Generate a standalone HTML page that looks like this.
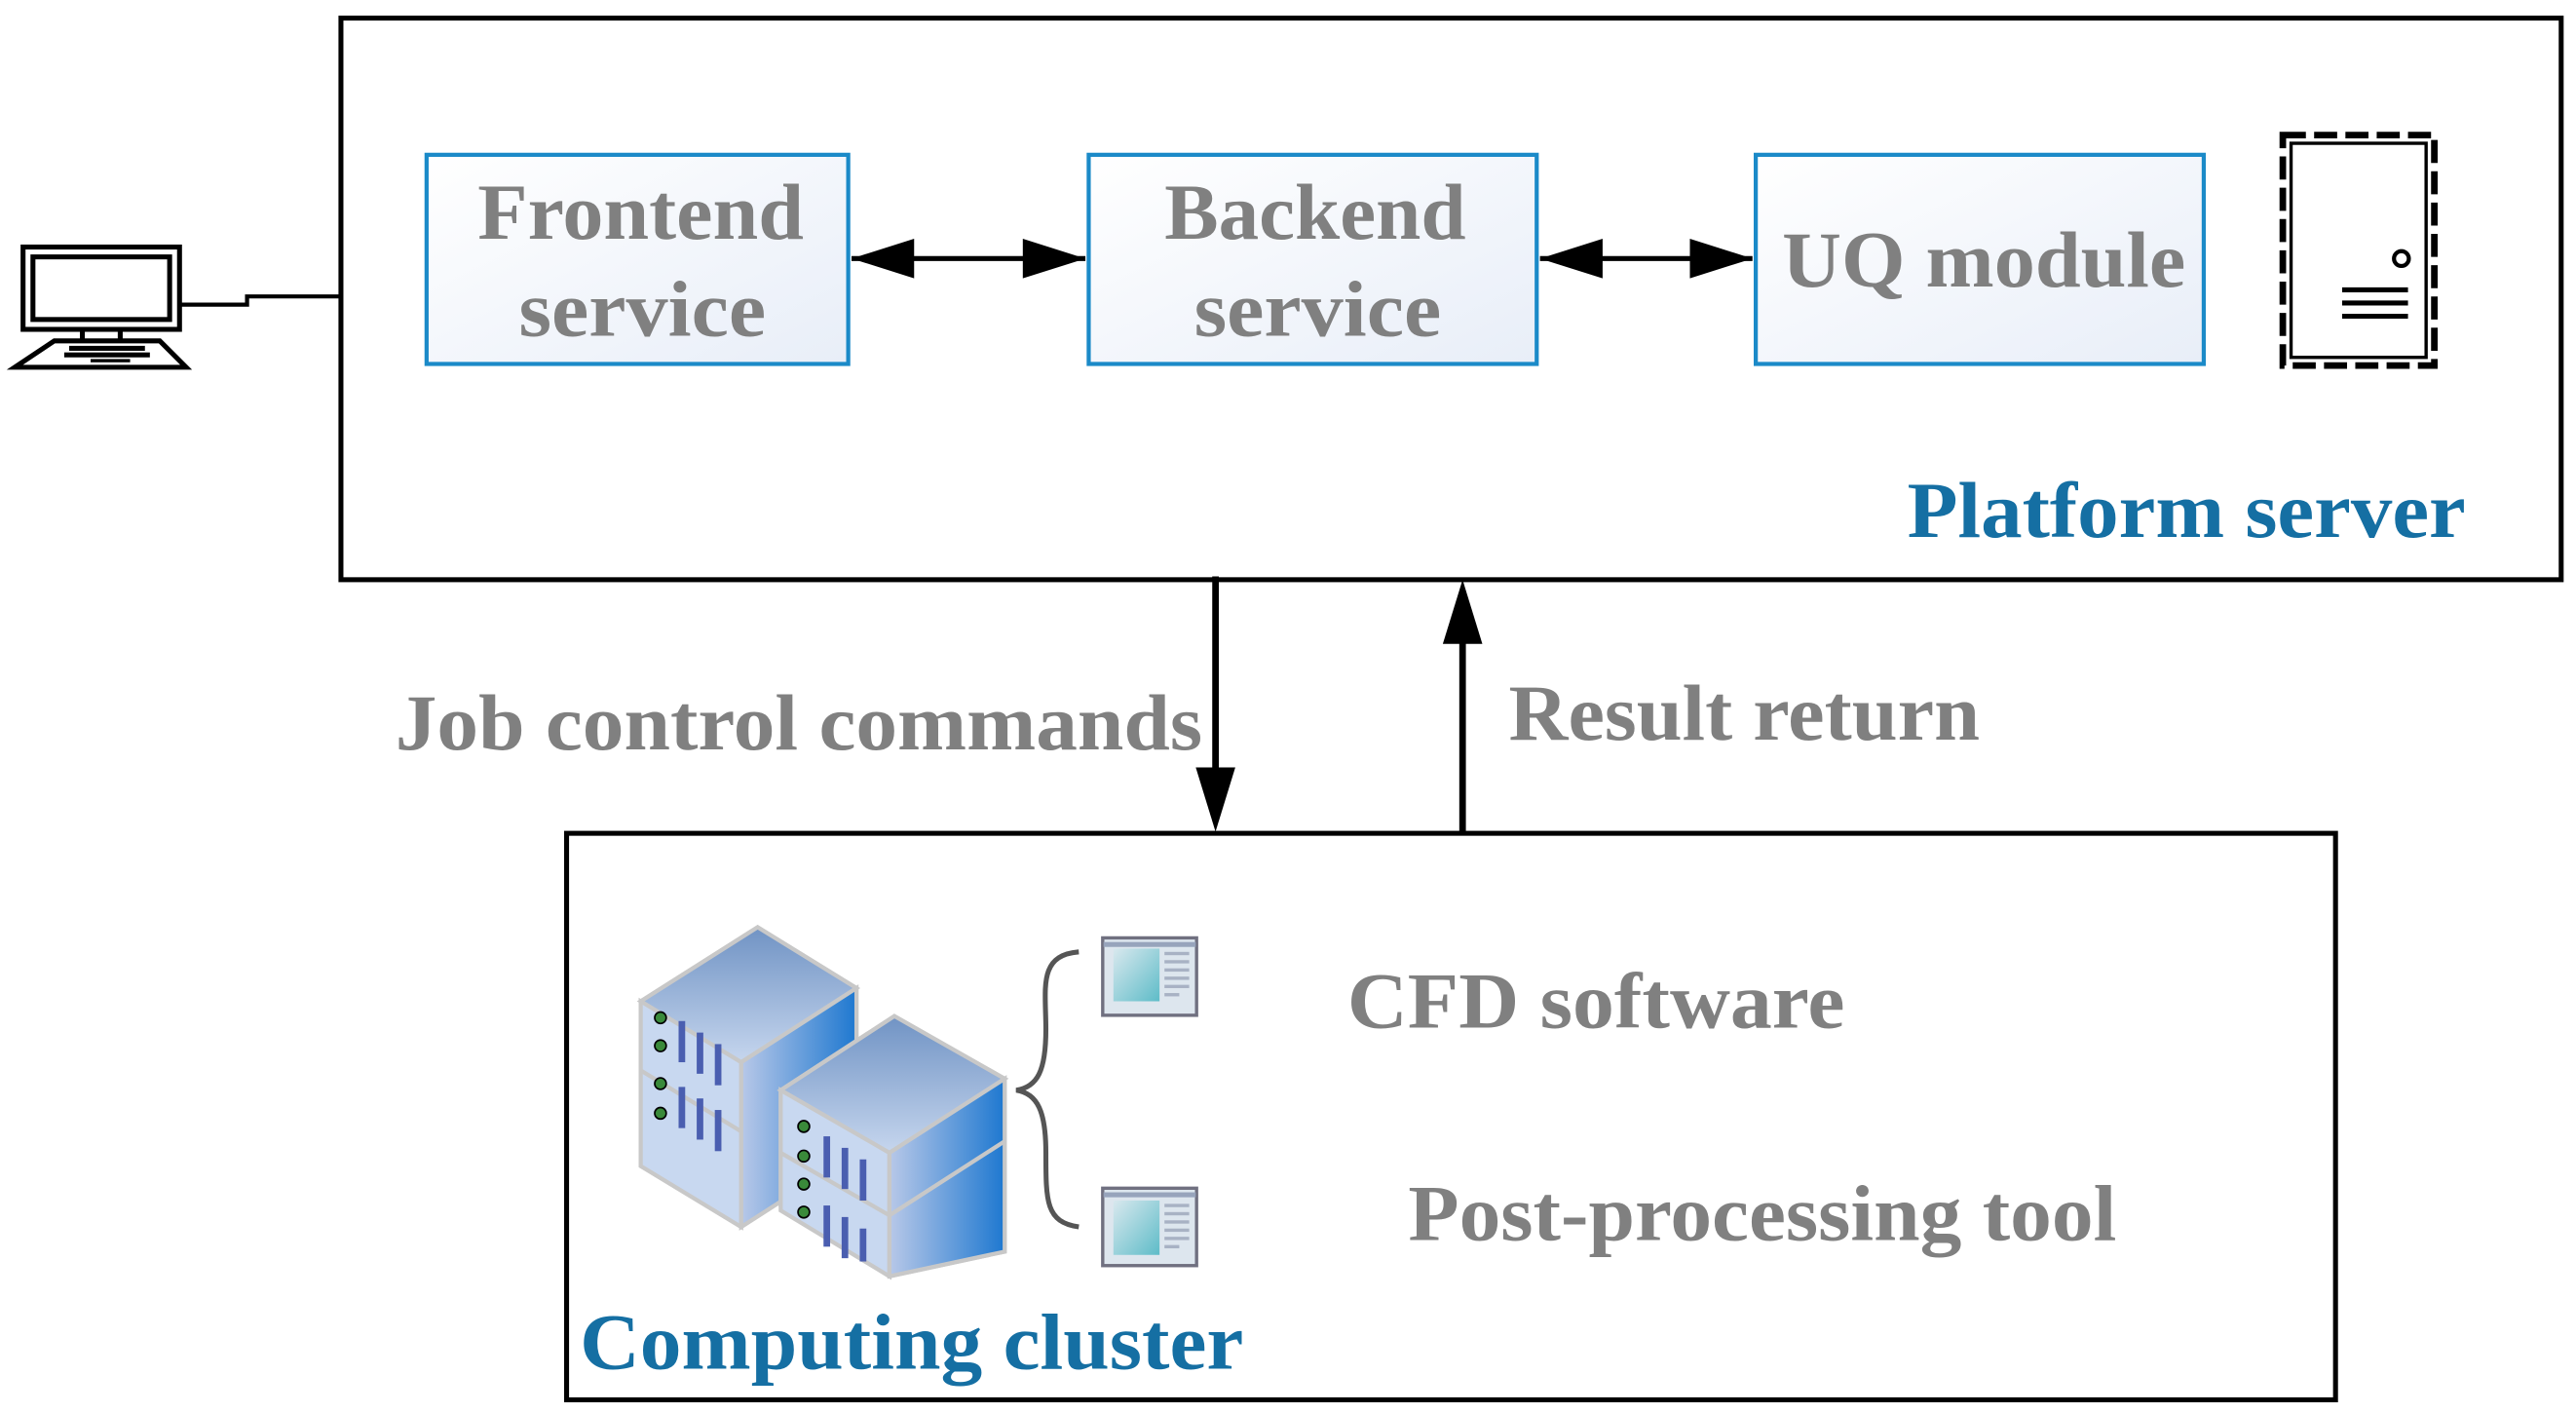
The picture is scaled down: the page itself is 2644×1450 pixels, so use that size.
<!DOCTYPE html>
<html><head><meta charset="utf-8"><style>html,body{margin:0;padding:0;background:#fff}svg{display:block}</style></head>
<body>
<svg width="2644" height="1450" viewBox="0 0 1564 858" preserveAspectRatio="none" xmlns="http://www.w3.org/2000/svg" font-family="Liberation Serif, serif" font-weight="bold">
<defs>
<linearGradient id="bx" x1="0" y1="0" x2="1" y2="1"><stop offset="0" stop-color="#ffffff"/><stop offset="1" stop-color="#e8eef8"/></linearGradient>
<linearGradient id="top" x1="0" y1="0" x2="0" y2="1"><stop offset="0" stop-color="#7093c4"/><stop offset="1" stop-color="#c6d6ee"/></linearGradient>
<linearGradient id="side" x1="0" y1="0" x2="1" y2="0"><stop offset="0" stop-color="#b8c8e8"/><stop offset="1" stop-color="#1e78d0"/></linearGradient>
<linearGradient id="scr" x1="0" y1="0" x2="1" y2="1"><stop offset="0" stop-color="#d8e8ee"/><stop offset="1" stop-color="#5ebcc8"/></linearGradient>
</defs>
<rect x="207" y="11" width="1348" height="341" fill="none" stroke="#000" stroke-width="3"/>
<rect x="259" y="94" width="256" height="127" fill="url(#bx)" stroke="#1b8ac8" stroke-width="2.5"/>
<rect x="661" y="94" width="272" height="127" fill="url(#bx)" stroke="#1b8ac8" stroke-width="2.5"/>
<rect x="1066" y="94" width="272" height="127" fill="url(#bx)" stroke="#1b8ac8" stroke-width="2.5"/>
<g fill="#808080" font-size="48" lengthAdjust="spacingAndGlyphs">
<text x="290" y="145" textLength="198" lengthAdjust="spacingAndGlyphs">Frontend</text><text x="315" y="204" textLength="150" lengthAdjust="spacingAndGlyphs">service</text>
<text x="707" y="145" textLength="183" lengthAdjust="spacingAndGlyphs">Backend</text><text x="725" y="204" textLength="150" lengthAdjust="spacingAndGlyphs">service</text>
<text x="1082" y="174" textLength="245" lengthAdjust="spacingAndGlyphs">UQ module</text>
</g>
<g stroke="#000" stroke-width="3">
<line x1="517" y1="157" x2="659" y2="157"/><line x1="935" y1="157" x2="1064" y2="157"/>
</g>
<g fill="#000">
<path d="M517,157 L555,145 L555,169z"/><path d="M659,157 L621,145 L621,169z"/>
<path d="M935,157 L973,145 L973,169z"/><path d="M1064,157 L1026,145 L1026,169z"/>
</g>
<rect x="1386" y="82" width="92" height="140" fill="none" stroke="#000" stroke-width="4" stroke-dasharray="14,5"/>
<rect x="1391" y="87" width="82" height="130" fill="none" stroke="#000" stroke-width="2"/>
<circle cx="1458" cy="157" r="4.5" fill="none" stroke="#000" stroke-width="2.5"/>
<g stroke="#000" stroke-width="3"><line x1="1422" y1="176" x2="1462" y2="176"/><line x1="1422" y1="184" x2="1462" y2="184"/><line x1="1422" y1="192" x2="1462" y2="192"/></g>
<text x="1158" y="326" font-size="48" fill="#156fa3" textLength="339" lengthAdjust="spacingAndGlyphs">Platform server</text>
<rect x="14" y="150" width="95" height="50" fill="none" stroke="#000" stroke-width="3"/>
<rect x="20" y="156" width="83" height="38" fill="none" stroke="#000" stroke-width="3"/>
<g stroke="#000" stroke-width="3"><line x1="50" y1="200" x2="50" y2="207"/><line x1="73" y1="200" x2="73" y2="207"/></g>
<path d="M33,207 L97,207 L113,223 L9,223 z" fill="none" stroke="#000" stroke-width="3"/>
<g fill="#000"><rect x="42" y="210" width="46" height="3"/><rect x="39" y="214" width="52" height="3"/><rect x="55" y="218" width="24" height="2"/></g>
<path d="M109,185 L150,185 L150,180 L207,180" fill="none" stroke="#000" stroke-width="2.5"/>
<g stroke="#000" stroke-width="4"><line x1="738" y1="350" x2="738" y2="470"/><line x1="888" y1="505" x2="888" y2="388"/></g>
<path d="M738,505 L726,466 L750,466z" fill="#000"/>
<path d="M888,352 L876,391 L900,391z" fill="#000"/>
<text x="240" y="455" font-size="48" fill="#808080" textLength="490" lengthAdjust="spacingAndGlyphs">Job control commands</text>
<text x="916" y="449" font-size="48" fill="#808080" textLength="286" lengthAdjust="spacingAndGlyphs">Result return</text>
<rect x="344" y="506" width="1074" height="344" fill="none" stroke="#000" stroke-width="3"/>
<g stroke="#c8c8c8" stroke-width="2.5">
<path d="M389,608 L460,563 L520,600 L520,700 L450,745 L389,708 z" fill="url(#side)"/>
<path d="M389,608 L460,563 L520,600 L450,645 z" fill="url(#top)"/>
<path d="M389,608 L450,645 L450,745 L389,708 z" fill="#c8d8f0"/>
<path d="M450,645 L520,600 L520,700 L450,745z" fill="url(#side)"/>
<line x1="389" y1="650" x2="450" y2="687"/>
<path d="M474,662 L543,617 L610,655 L610,760 L540,775 L474,732 z" fill="url(#side)"/>
<path d="M474,662 L543,617 L610,655 L540,700 z" fill="url(#top)"/>
<path d="M474,662 L540,700 L540,775 L474,735 z" fill="#c8d8f0"/>
<path d="M540,700 L610,655 L610,760 L540,775z" fill="url(#side)"/>
<line x1="540" y1="738" x2="610" y2="693"/>
<line x1="474" y1="700" x2="540" y2="738"/>
</g>
<g fill="#3a8a3a" stroke="#000" stroke-width="1">
<circle cx="401" cy="618" r="3.5"/><circle cx="401" cy="635" r="3.5"/><circle cx="401" cy="658" r="3.5"/><circle cx="401" cy="676" r="3.5"/>
<circle cx="488" cy="684" r="3.5"/><circle cx="488" cy="702" r="3.5"/><circle cx="488" cy="719" r="3.5"/><circle cx="488" cy="736" r="3.5"/>
</g>
<g fill="#4a5eb0"><rect x="412" y="620" width="4" height="25"/><rect x="423" y="627" width="4" height="25"/><rect x="434" y="634" width="4" height="25"/>
<rect x="412" y="660" width="4" height="25"/><rect x="423" y="667" width="4" height="25"/><rect x="434" y="674" width="4" height="25"/>
<rect x="500" y="690" width="4" height="25"/><rect x="511" y="697" width="4" height="25"/><rect x="522" y="704" width="4" height="25"/>
<rect x="500" y="732" width="4" height="25"/><rect x="511" y="739" width="4" height="25"/><rect x="522" y="746" width="4" height="20"/></g>
<path d="M655,578 C630,580 635,600 635,625 C635,650 630,660 617,662 C630,664 635,675 635,700 C635,730 635,742 655,745" fill="none" stroke="#555" stroke-width="3"/>
<g>
<rect x="669.5" y="569.5" width="57" height="47" fill="#dde6ee" stroke="#707080" stroke-width="2"/>
<rect x="670" y="572" width="56" height="3" fill="#97a4bc"/>
<rect x="676" y="576" width="28" height="32" fill="url(#scr)"/>
<g fill="#a8b2c4"><rect x="707" y="578" width="15" height="2"/><rect x="707" y="583" width="15" height="2"/><rect x="707" y="588" width="15" height="2"/><rect x="707" y="593" width="15" height="2"/><rect x="707" y="598" width="15" height="2"/><rect x="707" y="603" width="9" height="2"/></g>
<rect x="669.5" y="721.5" width="57" height="47" fill="#dde6ee" stroke="#707080" stroke-width="2"/>
<rect x="670" y="724" width="56" height="3" fill="#97a4bc"/>
<rect x="676" y="729" width="28" height="33" fill="url(#scr)"/>
<g fill="#a8b2c4"><rect x="707" y="731" width="15" height="2"/><rect x="707" y="736" width="15" height="2"/><rect x="707" y="741" width="15" height="2"/><rect x="707" y="746" width="15" height="2"/><rect x="707" y="751" width="15" height="2"/><rect x="707" y="756" width="9" height="2"/></g>
</g>
<text x="818" y="624" font-size="48" fill="#808080" textLength="302" lengthAdjust="spacingAndGlyphs">CFD software</text>
<text x="855" y="753" font-size="48" fill="#808080" textLength="430" lengthAdjust="spacingAndGlyphs">Post-processing tool</text>
<text x="352" y="831" font-size="48" fill="#156fa3" textLength="403" lengthAdjust="spacingAndGlyphs">Computing cluster</text>
</svg>
</body></html>
